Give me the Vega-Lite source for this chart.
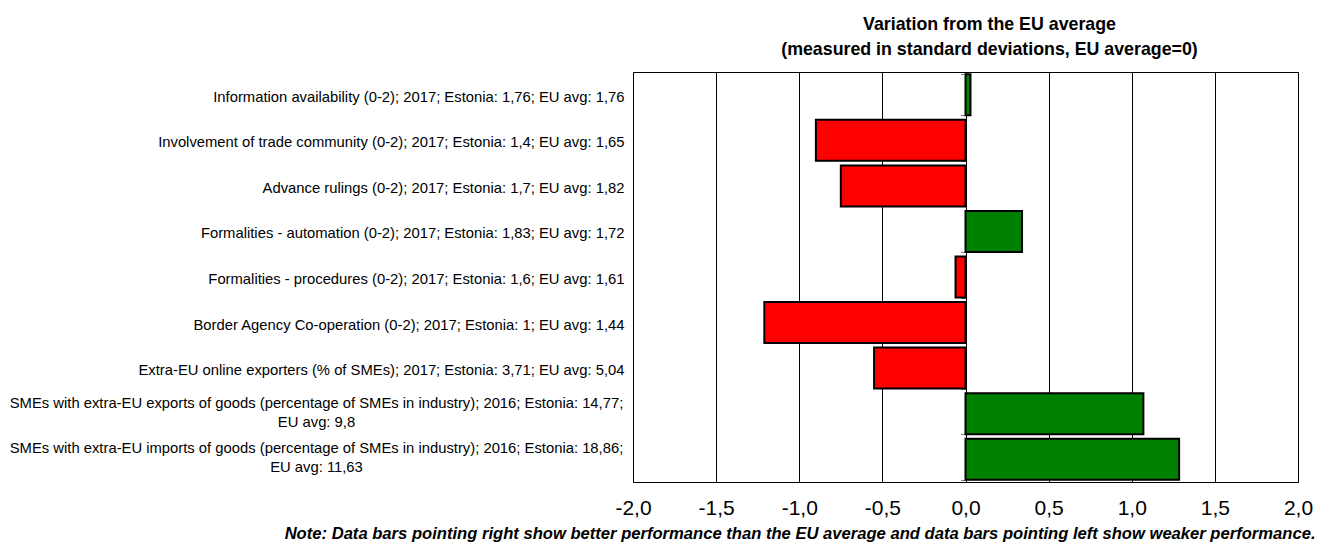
{
  "$schema": "https://vega.github.io/schema/vega-lite/v6.json",
  "autosize": "none",
  "width": 665,
  "height": 410,
  "padding": {"left": 633, "top": 72, "right": 30, "bottom": 62},
  "background": "white",
  "title": {
    "text": ["Variation from the EU average", "(measured in standard deviations, EU average=0)"],
    "font": "Liberation Sans",
    "fontSize": 17.8,
    "fontWeight": "bold",
    "color": "#000000",
    "anchor": "middle",
    "dx": 24,
    "offset": 13,
    "lineHeight": 25
  },
  "data": {
    "values": [
      {"indicator": "Information availability (0-2); 2017; Estonia: 1,76; EU avg: 1,76", "value": 0.03},
      {"indicator": "Involvement of trade community (0-2); 2017; Estonia: 1,4; EU avg: 1,65", "value": -0.9},
      {"indicator": "Advance rulings (0-2); 2017; Estonia: 1,7; EU avg: 1,82", "value": -0.75},
      {"indicator": "Formalities - automation (0-2); 2017; Estonia: 1,83; EU avg: 1,72", "value": 0.34},
      {"indicator": "Formalities - procedures (0-2); 2017; Estonia: 1,6; EU avg: 1,61", "value": -0.06},
      {"indicator": "Border Agency Co-operation (0-2); 2017; Estonia: 1; EU avg: 1,44", "value": -1.21},
      {"indicator": "Extra-EU online exporters (% of SMEs); 2017; Estonia: 3,71; EU avg: 5,04", "value": -0.55},
      {"indicator": "SMEs with extra-EU exports of goods (percentage of SMEs in industry); 2016; Estonia: 14,77; EU avg: 9,8", "value": 1.07},
      {"indicator": "SMEs with extra-EU imports of goods (percentage of SMEs in industry); 2016; Estonia: 18,86; EU avg: 11,63", "value": 1.285}
    ]
  },
  "config": {
    "view": {"stroke": "#000000", "strokeWidth": 1}
  },
  "resolve": {"axis": {"y": "independent"}},
  "layer": [
    {
      "mark": {"type": "bar", "stroke": "#000000", "strokeWidth": 2},
      "encoding": {
        "y": {
          "field": "indicator",
          "type": "nominal",
          "sort": null,
          "scale": {"paddingInner": 0.1, "paddingOuter": 0.05},
          "axis": {
            "title": null,
            "domain": false,
            "ticks": false,
            "labelFont": "Liberation Sans",
            "labelFontSize": 14.8,
            "labelColor": "#000000",
            "labelLimit": 700,
            "labelPadding": {"condition": {"test": "length(datum.value) > 90", "value": 317}, "value": 9},
            "labelAlign": {"condition": {"test": "length(datum.value) > 90", "value": "center"}, "value": "right"},
            "labelOffset": {"condition": {"test": "length(datum.value) > 90", "value": -10}, "value": 3},
            "labelLineHeight": 19,
            "labelExpr": "length(datum.value) > 90 ? [substring(datum.value, 0, indexof(datum.value, 'EU avg') - 1), substring(datum.value, indexof(datum.value, 'EU avg'))] : datum.value"
          }
        },
        "x": {
          "field": "value",
          "type": "quantitative",
          "scale": {"domain": [-2, 2], "nice": false},
          "axis": {
            "values": [-2, -1.5, -1, -0.5, 0, 0.5, 1, 1.5, 2],
            "grid": true,
            "gridColor": "#000000",
            "gridWidth": 1,
            "gridOpacity": 1,
            "domain": false,
            "ticks": false,
            "labelFont": "Liberation Sans",
            "labelFontSize": 21,
            "labelColor": "#000000",
            "labelPadding": 15,
            "labelFlush": false,
            "labelExpr": "replace(replace(format(datum.value, '.1f'), '.', ','), '\u2212', '-')",
            "title": "Note: Data bars pointing right show better performance than the EU average and data bars pointing left show weaker performance.",
            "titleFont": "Liberation Sans",
            "titleFontSize": 16.6,
            "titleFontWeight": "bold",
            "titleFontStyle": "italic",
            "titleColor": "#000000",
            "titleAlign": "right",
            "titleAnchor": "end",
            "titleX": 682,
            "titleY": 56,
            "titleBaseline": "alphabetic"
          }
        },
        "color": {
          "condition": {"test": "datum.value >= 0", "value": "#008000"},
          "value": "#FF0000"
        }
      }
    },
    {
      "mark": {"type": "bar", "opacity": 0},
      "encoding": {
        "y": {
          "field": "indicator",
          "type": "nominal",
          "sort": null,
          "axis": {
            "title": null,
            "orient": "left",
            "offset": -332.5,
            "domain": false,
            "labels": false,
            "ticks": true,
            "tickBand": "extent",
            "tickSize": 5,
            "tickColor": "#808080",
            "tickWidth": 1
          }
        },
        "x": {"field": "value", "type": "quantitative"}
      }
    }
  ]
}
